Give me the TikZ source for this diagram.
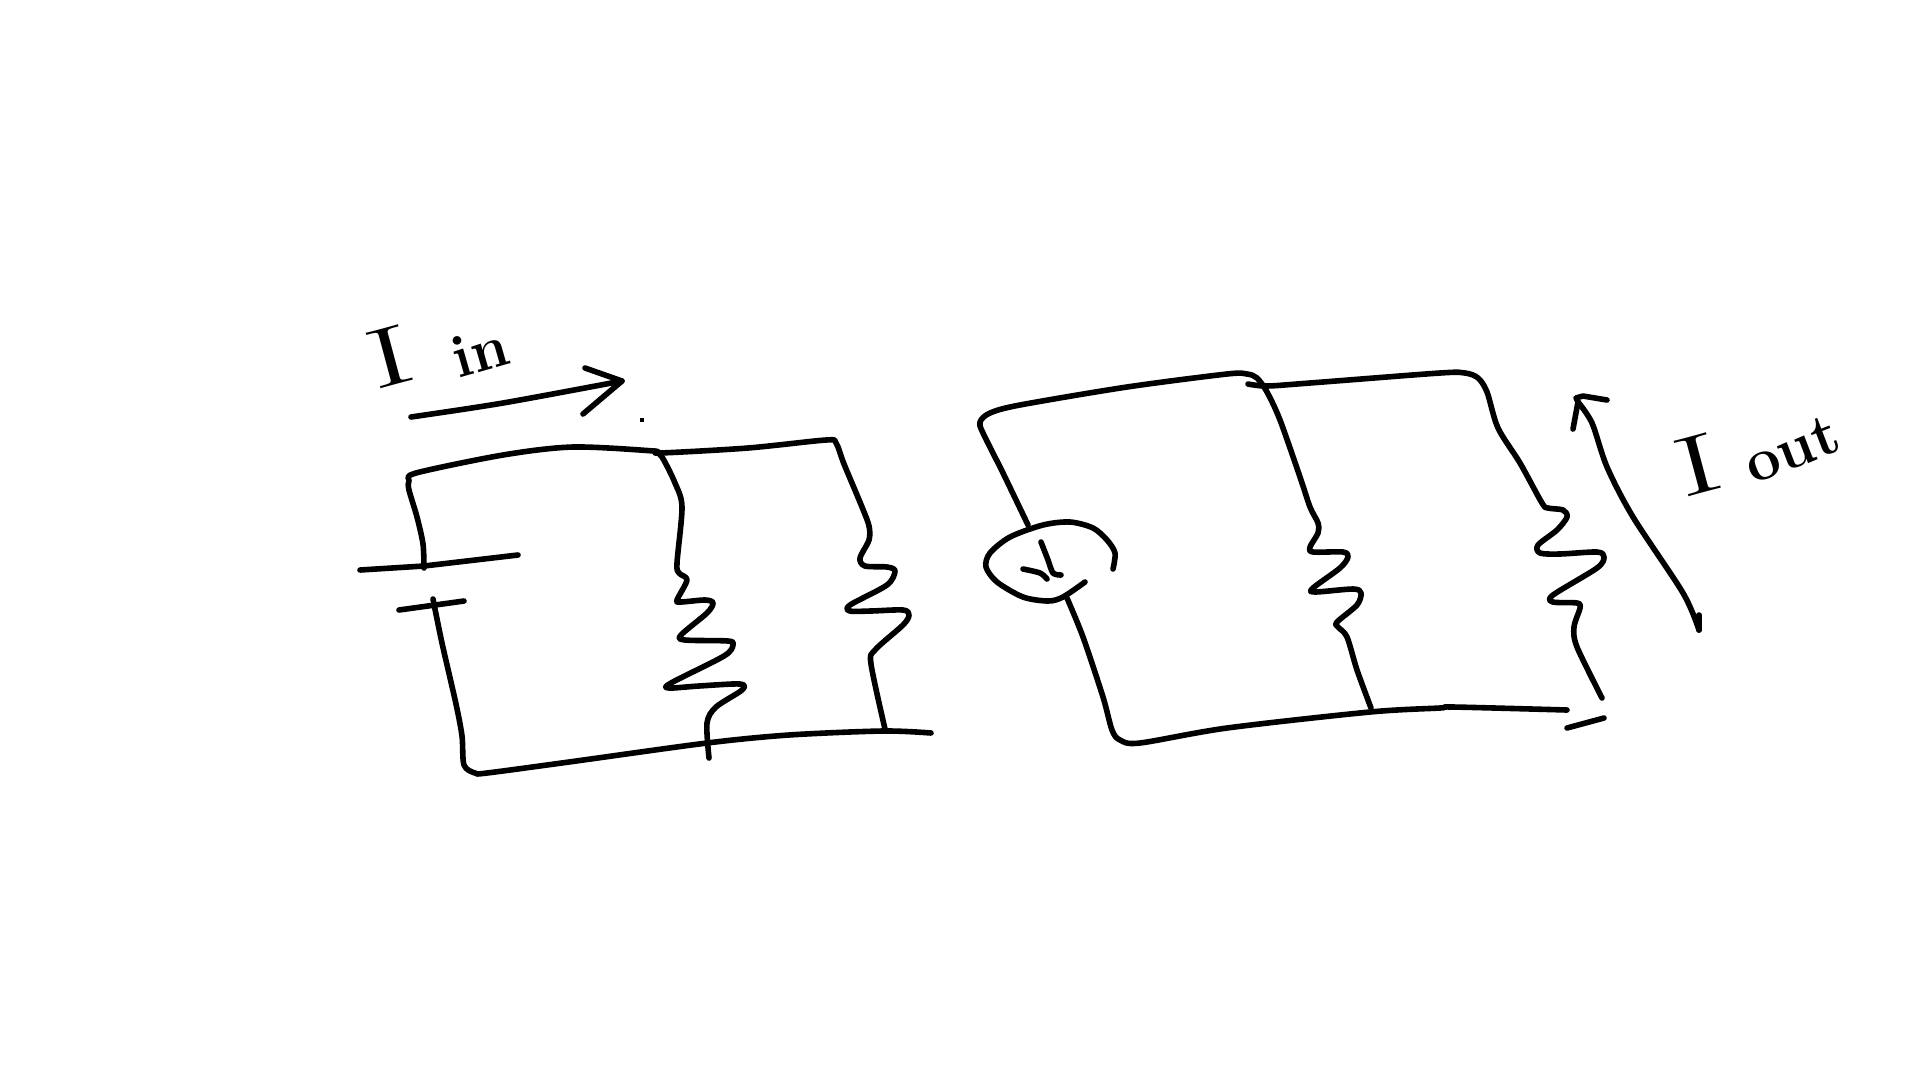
\documentclass[tikz,border=0pt]{standalone}
\usepackage{fontspec}
\usepackage{tikz}

\begin{document}
\begin{tikzpicture}[x=1pt, y=-1pt,
  wire/.style={line width=5.6pt, line cap=round, line join=round},
  lbig/.style={inner sep=0pt, font=\fontsize{84}{84}\selectfont},
  lsmall/.style={inner sep=0pt, font=\fontsize{60}{60}\selectfont\bfseries}]
\useasboundingbox (0,0) rectangle (1920,1080);
% left circuit
\draw[wire] plot[smooth,tension=.5] coordinates {(424,568) (423,544) (417,517) (409,490) (409,481) (416,473) (503,455) (573,447) (654,451) (660,453) (748,448) (826,440) (836,443) (844,464) (862,507) (869,526) (869,540) (860,558) (865,566) (887,567) (895,571) (887,585) (850,605) (850,611) (871,611) (903,610) (909,615) (903,625) (875,650) (871,664) (885,729)};
\draw[wire] (360,570) -- (424,566) -- (518,555);
\draw[wire] (399,610) -- (464,601);
\draw[wire] plot[smooth,tension=.5] coordinates {(433,599) (442,643) (456,704) (462,736) (464,765) (475,773) (487,773) (569,762) (707,743) (789,735) (883,731) (931,733)};
\draw[wire] plot[smooth,tension=.5] coordinates {(654,451) (662,457) (675,483) (682,507) (677,563) (679,573) (687,580) (677,600) (681,602) (705,600) (713,603) (707,613) (681,635) (685,640) (728,641) (733,645) (724,656) (671,683) (669,688) (699,686) (740,684) (742,690) (716,707) (707,723) (709,758)};
% right circuit
\draw[wire] plot[smooth,tension=.5] coordinates {(1028,525) (1003,473) (983,433) (980,422) (990,413) (1020,405) (1127,387) (1227,374) (1247,374) (1257,378) (1267,392) (1280,420) (1300,477) (1310,507) (1318,523) (1318,533) (1310,547) (1313,552) (1343,552) (1348,557) (1340,568) (1313,588) (1315,592) (1353,589) (1361,593) (1357,605) (1337,622) (1338,627) (1347,637) (1357,670) (1371,708)};
\draw[wire] plot[smooth,tension=.5] coordinates {(1248,384) (1267,386) (1310,383) (1440,373) (1465,373) (1478,378) (1487,392) (1498,428) (1520,463) (1542,503) (1548,508) (1563,510) (1567,517) (1557,530) (1538,545) (1540,553) (1560,554) (1597,552) (1604,557) (1597,568) (1553,595) (1553,602) (1577,603) (1580,608) (1574,627) (1577,647) (1602,698)};
\draw[wire] plot[smooth,tension=.5] coordinates {(1113,569) (1115,553) (1107,540) (1093,528) (1070,522) (1043,525) (1010,537) (990,553) (986,567) (997,582) (1023,597) (1048,601) (1063,597) (1085,582)};
\draw[wire] plot[smooth,tension=.5] coordinates {(1041,542) (1048,560) (1053,573) (1061,575)};
\draw[wire] plot[smooth,tension=.5] coordinates {(1023,569) (1040,573) (1047,579)};
\draw[wire] plot[smooth,tension=.5] coordinates {(1067,598) (1083,637) (1103,697) (1112,730) (1120,740) (1140,743) (1227,728) (1370,712) (1440,708) (1453,707) (1567,710)};
\draw[wire] (1567,728) -- (1604,718);
% current arrows
\draw[wire] plot[smooth,tension=.5] coordinates {(411,417) (503,403) (622,381)};
\draw[wire] (585,368) -- (622,381) -- (583,414);
\fill (640,418) rectangle (644,422);
\draw[wire] plot[smooth,tension=.5] coordinates {(1699,630) (1683,593) (1633,517) (1607,467) (1592,423) (1578,402)};
\draw[wire] (1699,615) -- (1699,630);
\draw[wire] (1573,429) -- (1578,402) -- (1576,398) -- (1583,396) -- (1607,400);
% labels
\node[lbig, rotate=15] (iin) at (390,357) {\scalebox{1.7}[1]{I}};
\node[lsmall, rotate=16] (in) at (480,351) {\addfontfeature{LetterSpace=25}in};
\node[lbig, rotate=15] (iout) at (1698,465) {\scalebox{1.7}[1]{I}};
\node[lsmall, rotate=21] (out) at (1792,449) {\addfontfeature{LetterSpace=10}out};
\end{tikzpicture}
\end{document}
